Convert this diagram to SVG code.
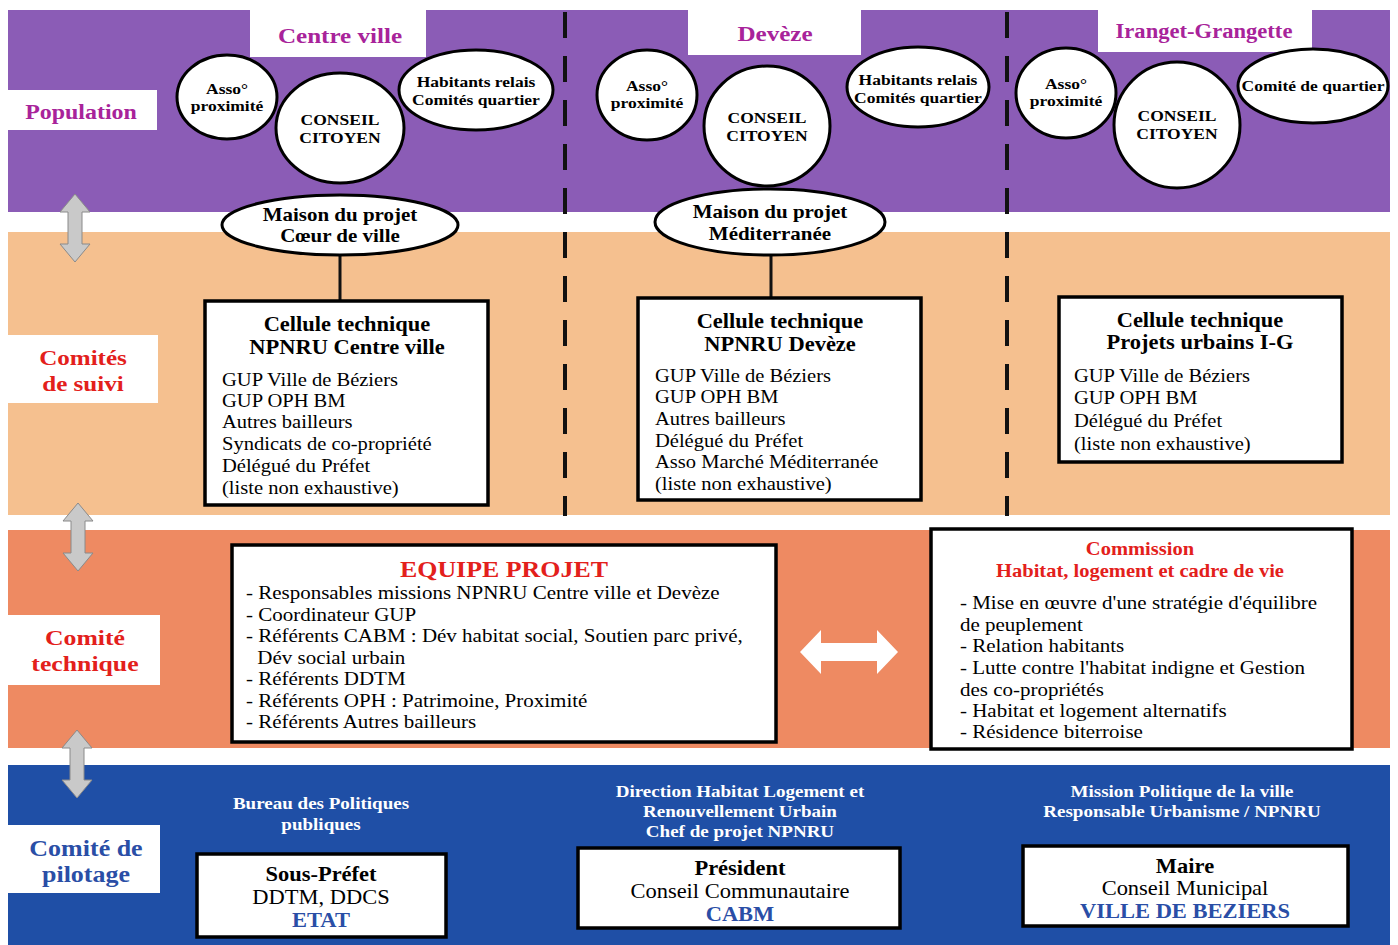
<svg xmlns="http://www.w3.org/2000/svg" xmlns:xlink="http://www.w3.org/1999/xlink" width="1398" height="945" viewBox="0 0 1398 945">
<style>
text{font-family:"Liberation Serif","Times New Roman",serif;fill:#000}
.b{font-weight:bold}
.c{text-anchor:middle}
.mag{fill:#A8239A;font-weight:bold}
.red{fill:#E3201B;font-weight:bold}
.blu{fill:#2A4EA6;font-weight:bold}
.wht{fill:#fff;font-weight:bold}
.ell{fill:#fff;stroke:#000;stroke-width:3}
.box{fill:#fff;stroke:#000;stroke-width:3.5}
.lbl{fill:#fff}
.dash{stroke:#111;stroke-width:4;stroke-dasharray:26 18;fill:none}
.conn{stroke:#111;stroke-width:3;fill:none}
.et{font-size:15.5px;font-weight:bold;text-anchor:middle}
.li{font-size:18.5px}
.ti{font-size:20px;text-anchor:middle}
.mp{font-size:18.5px;font-weight:bold;text-anchor:middle}
</style>
<defs>
<path id="varrow" d="M0,-34 L15,-16 L7,-16 L7,16 L15,16 L0,34 L-15,16 L-7,16 L-7,-16 L-15,-16 Z" fill="#C9C9C9" stroke="#8a8a8a" stroke-width="1"/>
</defs>
<rect width="1398" height="945" fill="#fff"/>
<g id="bands">
<rect x="8" y="10" width="1382" height="202" fill="#8B5CB6"/>
<rect x="8" y="232" width="1382" height="283" fill="#F5C08F"/>
<rect x="8" y="530" width="1382" height="218" fill="#EE8A62"/>
<rect x="8" y="765" width="1382" height="180" fill="#1F4FA6"/>
</g>
<g id="tab-centre-ville"><rect x="250" y="10" width="176" height="47" fill="#fff"/><text x="340" y="43" class="mag c" font-size="22" transform="matrix(1.14,0,0,1,-47.6,0)">Centre ville</text></g>
<g id="tab-deveze"><rect x="688" y="10" width="173" height="45" fill="#fff"/><text x="775" y="41" class="mag c" font-size="22" transform="matrix(1.14,0,0,1,-108.5,0)">Devèze</text></g>
<g id="tab-iranget"><rect x="1098" y="10" width="214" height="42" fill="#fff"/><text x="1204" y="38" class="mag c" font-size="20" transform="matrix(1.13,0,0,1,-156.52,0)">Iranget-Grangette</text></g>
<g id="label-population"><rect x="8" y="90" width="149" height="40" class="lbl"/><text x="81" y="119" class="mag c" font-size="21" transform="matrix(1.14,0,0,1,-11.34,0)">Population</text></g>
<g id="label-suivi"><rect x="8" y="335" width="150" height="68" class="lbl"/><g transform="matrix(1.14,0,0,1,-11.62,0)"><text x="83" y="365" class="red c" font-size="22">Comités</text><text x="83" y="391" class="red c" font-size="22">de suivi</text></g></g>
<g id="label-technique"><rect x="8" y="615" width="152" height="70" class="lbl"/><g transform="matrix(1.17,0,0,1,-14.45,0)"><text x="85" y="645" class="red c" font-size="22">Comité</text><text x="85" y="671" class="red c" font-size="22">technique</text></g></g>
<g id="label-pilotage"><rect x="8" y="825" width="152" height="68" class="lbl"/><g transform="matrix(1.13,0,0,1,-11.18,0)"><text x="86" y="856" class="blu c" font-size="23">Comité de</text><text x="86" y="882" class="blu c" font-size="23">pilotage</text></g></g>
<g id="connectors">
<line x1="565" y1="12" x2="565" y2="516" class="dash"/>
<line x1="1007" y1="12" x2="1007" y2="516" class="dash"/>
<line x1="340" y1="254" x2="340" y2="301" class="conn"/>
<line x1="771" y1="254" x2="771" y2="298" class="conn"/>
<use xlink:href="#varrow" x="75" y="228"/>
<use xlink:href="#varrow" x="78" y="537"/>
<use xlink:href="#varrow" x="77" y="764"/>
<path d="M800,652 L821,630 L821,643 L877,643 L877,630 L898,652 L877,674 L877,661 L821,661 L821,674 Z" fill="#fff"/>
</g>
<g id="cv-asso"><ellipse cx="227" cy="97" rx="50" ry="42" class="ell"/><g transform="matrix(1.13,0,0,1,-29.51,0)"><text x="227" y="94" class="et">Asso°</text><text x="227" y="111" class="et">proximité</text></g></g>
<g id="cv-conseil"><ellipse cx="340" cy="128" rx="64" ry="55" class="ell"/><g transform="matrix(1.13,0,0,1,-44.2,0)"><text x="340" y="125" class="et">CONSEIL</text><text x="340" y="143" class="et">CITOYEN</text></g></g>
<g id="cv-habitants"><ellipse cx="476" cy="90" rx="77" ry="40" class="ell"/><g transform="matrix(1.13,0,0,1,-61.88,0)"><text x="476" y="87" class="et">Habitants relais</text><text x="476" y="105" class="et">Comités quartier</text></g></g>
<g id="cv-maison"><ellipse cx="340" cy="225" rx="118" ry="30" class="ell"/><g transform="matrix(1.135,0,0,1,-45.9,0)"><text x="340" y="221" class="mp">Maison du projet</text><text x="340" y="242" class="mp">Cœur de ville</text></g></g>
<g id="dv-asso"><ellipse cx="647" cy="95" rx="50" ry="45" class="ell"/><g transform="matrix(1.13,0,0,1,-84.11,0)"><text x="647" y="91" class="et">Asso°</text><text x="647" y="108" class="et">proximité</text></g></g>
<g id="dv-conseil"><ellipse cx="767" cy="126" rx="63" ry="60" class="ell"/><g transform="matrix(1.13,0,0,1,-99.71,0)"><text x="767" y="123" class="et">CONSEIL</text><text x="767" y="141" class="et">CITOYEN</text></g></g>
<g id="dv-habitants"><ellipse cx="918" cy="87" rx="71" ry="40" class="ell"/><g transform="matrix(1.13,0,0,1,-119.34,0)"><text x="918" y="85" class="et">Habitants relais</text><text x="918" y="103" class="et">Comités quartier</text></g></g>
<g id="dv-maison"><ellipse cx="770" cy="222" rx="115" ry="33" class="ell"/><g transform="matrix(1.135,0,0,1,-103.95,0)"><text x="770" y="218" class="mp">Maison du projet</text><text x="770" y="240" class="mp">Méditerranée</text></g></g>
<g id="ig-asso"><ellipse cx="1066" cy="93" rx="50" ry="45" class="ell"/><g transform="matrix(1.13,0,0,1,-138.58,0)"><text x="1066" y="89" class="et">Asso°</text><text x="1066" y="106" class="et">proximité</text></g></g>
<g id="ig-conseil"><ellipse cx="1177" cy="125" rx="63" ry="63" class="ell"/><g transform="matrix(1.13,0,0,1,-153.01,0)"><text x="1177" y="121" class="et">CONSEIL</text><text x="1177" y="139" class="et">CITOYEN</text></g></g>
<g id="ig-comite"><ellipse cx="1313" cy="86" rx="75" ry="37" class="ell"/><g transform="matrix(1.13,0,0,1,-170.69,0)"><text x="1313" y="91" class="et">Comité de quartier</text></g></g>
<g id="cellule-cv"><rect x="205" y="301" width="283" height="204" class="box"/>
<g transform="matrix(1.125,0,0,1,-43.375,0)"><text x="347" y="331" class="b ti">Cellule technique</text><text x="347" y="354" class="b ti">NPNRU Centre ville</text></g>
<g transform="matrix(1.11,0,0,1,-24.42,0)"><text x="222" y="386" class="li">GUP Ville de Béziers</text><text x="222" y="407" class="li">GUP OPH BM</text><text x="222" y="428" class="li">Autres bailleurs</text><text x="222" y="450" class="li">Syndicats de co-propriété</text><text x="222" y="472" class="li">Délégué du Préfet</text><text x="222" y="494" class="li">(liste non exhaustive)</text></g></g>
<g id="cellule-dv"><rect x="638" y="298" width="283" height="202" class="box"/>
<g transform="matrix(1.125,0,0,1,-97.5,0)"><text x="780" y="328" class="b ti">Cellule technique</text><text x="780" y="351" class="b ti">NPNRU Devèze</text></g>
<g transform="matrix(1.11,0,0,1,-72.05,0)"><text x="655" y="382" class="li">GUP Ville de Béziers</text><text x="655" y="403" class="li">GUP OPH BM</text><text x="655" y="425" class="li">Autres bailleurs</text><text x="655" y="447" class="li">Délégué du Préfet</text><text x="655" y="468" class="li">Asso Marché Méditerranée</text><text x="655" y="490" class="li">(liste non exhaustive)</text></g></g>
<g id="cellule-ig"><rect x="1059" y="297" width="283" height="165" class="box"/>
<g transform="matrix(1.125,0,0,1,-150,0)"><text x="1200" y="327" class="b ti">Cellule technique</text><text x="1200" y="349" class="b ti">Projets urbains I-G</text></g>
<g transform="matrix(1.11,0,0,1,-118.14,0)"><text x="1074" y="382" class="li">GUP Ville de Béziers</text><text x="1074" y="404" class="li">GUP OPH BM</text><text x="1074" y="427" class="li">Délégué du Préfet</text><text x="1074" y="450" class="li">(liste non exhaustive)</text></g></g>
<g id="equipe-projet"><rect x="232" y="545" width="544" height="197" class="box"/>
<text x="504" y="577" class="red c" font-size="24" transform="matrix(1.08,0,0,1,-40.32,0)">EQUIPE PROJET</text>
<g transform="matrix(1.135,0,0,1,-33.21,0)">
<text x="246" y="599" class="li">- Responsables missions NPNRU Centre ville et  Devèze</text>
<text x="246" y="621" class="li">- Coordinateur GUP</text>
<text x="246" y="642" class="li">- Référents CABM : Dév habitat social, Soutien parc privé,</text>
<text x="256" y="664" class="li">Dév social urbain</text>
<text x="246" y="685" class="li">- Référents DDTM</text>
<text x="246" y="707" class="li">- Référents OPH : Patrimoine, Proximité</text>
<text x="246" y="728" class="li">- Référents Autres bailleurs</text></g></g>
<g id="commission"><rect x="931" y="529" width="421" height="220" class="box"/>
<g transform="matrix(1.14,0,0,1,-159.6,0)"><text x="1140" y="555" class="red c" font-size="18">Commission</text>
<text x="1140" y="577" class="red c" font-size="18">Habitat, logement et cadre de vie</text></g>
<g transform="matrix(1.135,0,0,1,-129.6,0)">
<text x="960" y="609" class="li">- Mise en œuvre d'une stratégie d'équilibre</text>
<text x="960" y="631" class="li">de peuplement</text>
<text x="960" y="652" class="li">- Relation habitants</text>
<text x="960" y="674" class="li">- Lutte contre l'habitat indigne et Gestion</text>
<text x="960" y="696" class="li">des co-propriétés</text>
<text x="960" y="717" class="li">- Habitat et logement alternatifs</text>
<text x="960" y="738" class="li">- Résidence biterroise</text></g></g>
<g id="pil-etat-head" transform="matrix(1.12,0,0,1,-38.52,0)"><text x="321" y="809" class="wht c" font-size="17">Bureau des Politiques</text><text x="321" y="830" class="wht c" font-size="17">publiques</text></g>
<g id="pil-cabm-head" transform="matrix(1.12,0,0,1,-88.8,0)"><text x="740" y="797" class="wht c" font-size="17">Direction Habitat Logement et</text><text x="740" y="817" class="wht c" font-size="17">Renouvellement Urbain</text><text x="740" y="837" class="wht c" font-size="17">Chef de projet  NPNRU</text></g>
<g id="pil-ville-head" transform="matrix(1.12,0,0,1,-141.84,0)"><text x="1182" y="797" class="wht c" font-size="17">Mission Politique de la ville</text><text x="1182" y="817" class="wht c" font-size="17">Responsable Urbanisme / NPNRU</text></g>
<g id="pil-etat"><rect x="197" y="854" width="249" height="83" class="box"/>
<g transform="matrix(1.125,0,0,1,-40.125,0)"><text x="321" y="881" class="b ti">Sous-Préfet</text><text x="321" y="904" class="ti">DDTM, DDCS</text><text x="321" y="927" class="blu ti">ETAT</text></g></g>
<g id="pil-cabm"><rect x="578" y="848" width="322" height="80" class="box"/>
<g transform="matrix(1.125,0,0,1,-92.5,0)"><text x="740" y="875" class="b ti">Président</text><text x="740" y="898" class="ti">Conseil Communautaire</text><text x="740" y="921" class="blu ti">CABM</text></g></g>
<g id="pil-ville"><rect x="1023" y="846" width="325" height="80" class="box"/>
<g transform="matrix(1.125,0,0,1,-148.125,0)"><text x="1185" y="873" class="b ti">Maire</text><text x="1185" y="895" class="ti">Conseil Municipal</text><text x="1185" y="918" class="blu ti">VILLE DE BEZIERS</text></g></g>
</svg>
